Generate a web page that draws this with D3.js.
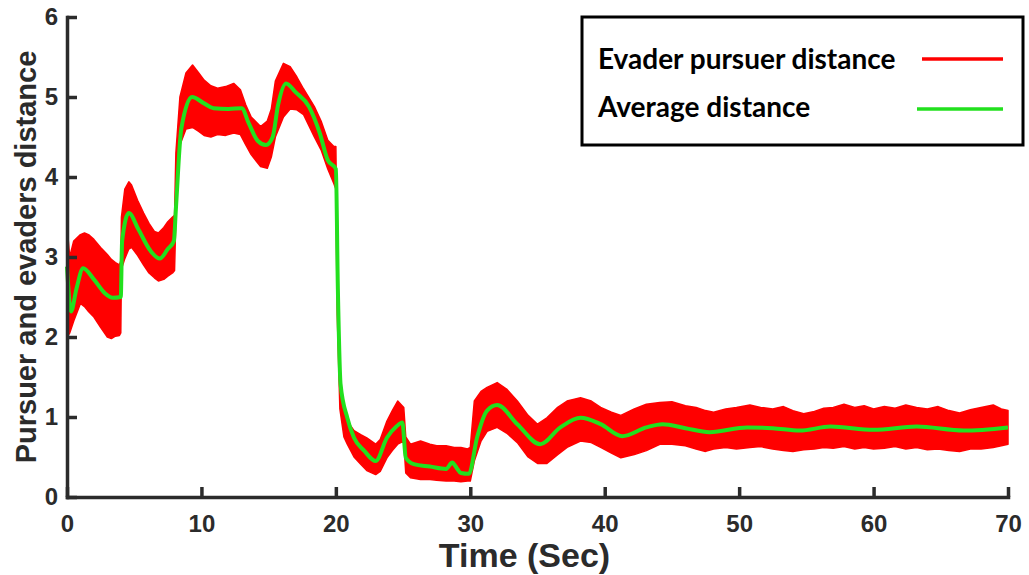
<!DOCTYPE html>
<html>
<head>
<meta charset="utf-8">
<script src="https://cdn.jsdelivr.net/npm/d3@7"></script>
<style>
  body { margin: 0; background: #fff; }
  .axis text { font-family: "Liberation Sans", Arial, sans-serif; font-weight: bold; fill: #2b2b2b; }
  .axis path, .axis line { stroke: #2b2b2b; }
</style>
</head>
<body>
<div id="chart"></div>
<script>
// average distance (green)
var meanT = [0, 0.3, 0.7, 1.2, 2.0, 2.8, 3.4, 4.0, 4.1, 4.6, 5.3, 6.2, 6.9, 7.5, 7.95, 8.1, 8.5, 9.3, 10.2, 10.9,
  12.0, 13.0, 13.5, 14.2, 14.8, 15.3, 15.7, 16.3, 17.0, 18.0, 18.8, 19.4, 20.0, 20.15, 20.35, 20.85, 21.35, 22.1, 22.96, 23.8,
  24.5, 24.95, 25.2, 25.8, 27.0, 28.2, 28.65, 29.0, 29.3, 29.9, 30.5, 31.25, 32.0, 33.5, 35.2, 36.7, 38.2, 39.7, 41.3, 43.1,
  44.3, 46.0, 47.8, 50.6, 52.5, 54.5, 56.8, 60.0, 63.2, 66.7, 70.0];
var meanV = [2.88, 2.32, 2.6, 2.86, 2.72, 2.55, 2.49, 2.5, 3.2, 3.55, 3.35, 3.08, 2.98, 3.1, 3.2, 3.6, 4.6, 5.0, 4.92, 4.86,
  4.85, 4.86, 4.68, 4.45, 4.40, 4.5, 4.9, 5.17, 5.06, 4.88, 4.55, 4.21, 4.1, 2.6, 1.41, 0.99, 0.74, 0.58, 0.45, 0.74,
  0.88, 0.93, 0.49, 0.41, 0.38, 0.35, 0.43, 0.36, 0.30, 0.29, 0.74, 1.08, 1.15, 0.91, 0.66, 0.87, 0.99, 0.91, 0.76, 0.87,
  0.91, 0.86, 0.81, 0.87, 0.86, 0.83, 0.88, 0.84, 0.88, 0.83, 0.87];

// evader pursuer distance spread (red band: upper / lower envelope)
var bandT = [0, 0.2, 0.5, 1.0, 1.3, 1.6, 2.0, 2.5, 3.0, 3.3, 3.6, 3.9, 4.0, 4.05, 4.3, 4.6, 4.8, 5.25, 5.7, 6.1,
  6.5, 6.8, 7.2, 7.5, 7.85, 8.0, 8.1, 8.4, 8.85, 9.34, 9.8, 10.2, 10.7, 11.2, 11.8, 12.4, 12.9, 13.3, 13.7, 14.4,
  14.9, 15.2, 15.5, 16.1, 16.6, 17.1, 17.6, 18.4, 18.9, 19.4, 19.85, 20.0, 20.1, 20.3, 20.6, 20.85, 21.35, 21.85, 22.3, 22.96,
  23.3, 23.8, 24.2, 24.6, 25.05, 25.2, 25.55, 26.3, 27.0, 27.5, 28.2, 28.8, 29.3, 29.8, 30.0, 30.3, 30.8, 31.25, 32.0, 32.7,
  33.5, 34.3, 35.0, 35.7, 36.5, 37.2, 38.2, 39.0, 39.7, 40.5, 41.2, 42.2, 43.1,
  44.1, 45.0, 46.0, 46.8, 47.5, 48.1, 49.0, 49.8, 50.8, 51.6, 52.5, 53.3, 54.0, 54.8, 55.6, 56.3, 57.0, 57.8, 58.6, 59.3,
  60.0, 60.8, 61.6, 62.4, 63.2, 64.0, 64.8, 65.6, 66.4, 67.2, 68.0, 68.9, 69.5, 70.0];
var bandHi = [3.4, 3.0, 3.2, 3.28, 3.3, 3.28, 3.22, 3.12, 3.03, 2.97, 2.93, 2.9, 2.95, 3.5, 3.85, 3.94, 3.9, 3.71, 3.55, 3.42,
  3.32, 3.3, 3.37, 3.44, 3.5, 3.52, 4.3, 5.0, 5.3, 5.4, 5.3, 5.21, 5.14, 5.11, 5.13, 5.17, 5.09, 4.9, 4.75, 4.63,
  4.7, 4.85, 5.2, 5.42, 5.38, 5.25, 5.1, 4.88, 4.7, 4.46, 4.38, 4.38, 3.0, 1.5, 1.08, 0.95, 0.83, 0.78, 0.74, 0.66,
  0.72, 0.95, 1.08, 1.2, 1.12, 0.75, 0.66, 0.70, 0.66, 0.64, 0.64, 0.62, 0.62, 0.6, 0.62, 1.2, 1.32, 1.37, 1.43, 1.35,
  1.2, 1.02, 0.91, 0.99, 1.12, 1.2, 1.24, 1.2, 1.12, 1.06, 1.02, 1.1, 1.16,
  1.18, 1.19, 1.14, 1.12, 1.08, 1.06, 1.1, 1.12, 1.15, 1.12, 1.1, 1.13, 1.08, 1.04, 1.07, 1.11, 1.12, 1.16, 1.12, 1.14,
  1.1, 1.13, 1.11, 1.15, 1.12, 1.1, 1.13, 1.08, 1.05, 1.09, 1.12, 1.15, 1.1, 1.08];
var bandLo = [2.0, 2.05, 2.2, 2.42, 2.38, 2.32, 2.25, 2.12, 2.0, 1.98, 2.01, 2.02, 2.05, 2.85, 2.98, 3.1, 3.12, 3.02, 2.9, 2.8,
  2.74, 2.7, 2.72, 2.76, 2.8, 2.83, 3.5, 4.4, 4.6, 4.62, 4.57, 4.52, 4.5, 4.53, 4.52, 4.55, 4.53, 4.4, 4.28, 4.13,
  4.11, 4.25, 4.5, 4.75, 4.85, 4.84, 4.78, 4.5, 4.34, 4.1, 3.92, 3.85, 2.3, 1.1, 0.75, 0.66, 0.5, 0.41, 0.33, 0.28,
  0.32, 0.49, 0.58, 0.66, 0.70, 0.3, 0.24, 0.22, 0.22, 0.21, 0.20, 0.20, 0.19, 0.2, 0.2, 0.45, 0.7, 0.82, 0.87, 0.8,
  0.68, 0.5, 0.42, 0.42, 0.53, 0.62, 0.70, 0.68, 0.62, 0.55, 0.49, 0.53, 0.58,
  0.66, 0.66, 0.64, 0.6, 0.57, 0.6, 0.62, 0.6, 0.62, 0.63, 0.6, 0.58, 0.57, 0.59, 0.6, 0.62, 0.61, 0.63, 0.6, 0.62,
  0.6, 0.61, 0.63, 0.6, 0.62, 0.59, 0.6, 0.58, 0.57, 0.6, 0.6, 0.62, 0.64, 0.66];

var xTicks = [0, 10, 20, 30, 40, 50, 60, 70];
var yTicks = [0, 1, 2, 3, 4, 5, 6];
var legendLabels = ["Evader pursuer distance", "Average distance"];
var legendColors = ["#ff0000", "#22e01e"];

// set the dimensions and margins of the graph
var margin = {top: 17, right: 21, bottom: 78, left: 67},
    width = 1029 - margin.left - margin.right,
    height = 575 - margin.top - margin.bottom;

var x = d3.scaleLinear().domain([0, 70]).range([0, width]);
var y = d3.scaleLinear().domain([0, 6]).range([height, 0]);

var svg = d3.select("#chart")
  .append("svg")
    .attr("width", 1029)
    .attr("height", 575)
  .append("g")
    .attr("transform", "translate(" + margin.left + "," + margin.top + ")");

// red band
var band = bandT.map(function(t, i) { return {t: t, hi: bandHi[i], lo: bandLo[i]}; });
var area = d3.area()
    .x(function(d) { return x(d.t); })
    .y0(function(d) { return y(d.lo); })
    .y1(function(d) { return y(d.hi); });

svg.append("path")
    .datum(band)
    .attr("d", area)
    .attr("fill", legendColors[0])
    .attr("stroke", legendColors[0])
    .attr("stroke-width", 1.5)
    .attr("stroke-linejoin", "round");

// green average line
var mean = meanT.map(function(t, i) { return {t: t, v: meanV[i]}; });
var line = d3.line()
  .curve(d3.curveMonotoneX)
    .x(function(d) { return x(d.t); })
    .y(function(d) { return y(d.v); });

svg.append("path")
    .datum(mean)
    .attr("d", line)
    .attr("fill", "none")
    .attr("stroke", legendColors[1])
    .attr("stroke-width", 4);

// X Axis
var xAxis = svg.append("g")
    .attr("class", "axis")
    .attr("transform", "translate(0," + height + ")")
    .call(d3.axisBottom(x).tickValues(xTicks).tickSize(-10).tickSizeOuter(0).tickPadding(18));
xAxis.selectAll("text").style("font-size", "24px");

// Y Axis
var yAxis = svg.append("g")
    .attr("class", "axis")
    .call(d3.axisLeft(y).tickValues(yTicks).tickFormat(d3.format("d")).tickSize(-10).tickSizeOuter(0).tickPadding(9));
yAxis.selectAll("text").style("font-size", "24px");

svg.selectAll(".axis path, .axis line").attr("stroke-width", 3.5);
svg.selectAll(".axis path").attr("stroke-linecap", "square");

// axis titles
svg.append("text")
    .attr("x", width / 2 - 13)
    .attr("y", height + 70)
    .attr("text-anchor", "middle")
    .style("font-family", "Liberation Sans, Arial, sans-serif")
    .style("font-weight", "bold")
    .style("font-size", "34px")
    .style("fill", "#2b2b2b")
    .text("Time (Sec)");

svg.append("text")
    .attr("transform", "translate(" + (-31) + "," + (height / 2) + ") rotate(-90)")
    .attr("text-anchor", "middle")
    .style("font-family", "Liberation Sans, Arial, sans-serif")
    .style("font-weight", "bold")
    .style("font-size", "29px")
    .style("fill", "#2b2b2b")
    .text("Pursuer and evaders distance");

// legend
var legend = svg.append("g")
    .attr("transform", "translate(" + (582 - margin.left) + "," + (17 - margin.top) + ")");

legend.append("rect")
    .attr("width", 441)
    .attr("height", 128)
    .attr("fill", "#fff")
    .attr("stroke", "#000")
    .attr("stroke-width", 3);

legendLabels.forEach(function(label, i) {
  legend.append("text")
      .attr("x", 16)
      .attr("y", 52 + i * 48)
      .style("font-family", "Lato, 'Open Sans', sans-serif")
      .style("font-weight", "bold")
      .style("font-size", "28px")
      .style("fill", "#000")
      .text(label);
  legend.append("line")
      .attr("x1", i === 0 ? 340 : 335)
      .attr("x2", 421)
      .attr("y1", 42 + i * 50)
      .attr("y2", 42 + i * 50)
      .attr("stroke", legendColors[i])
      .attr("stroke-width", 3.5);
});
</script>
</body>
</html>
